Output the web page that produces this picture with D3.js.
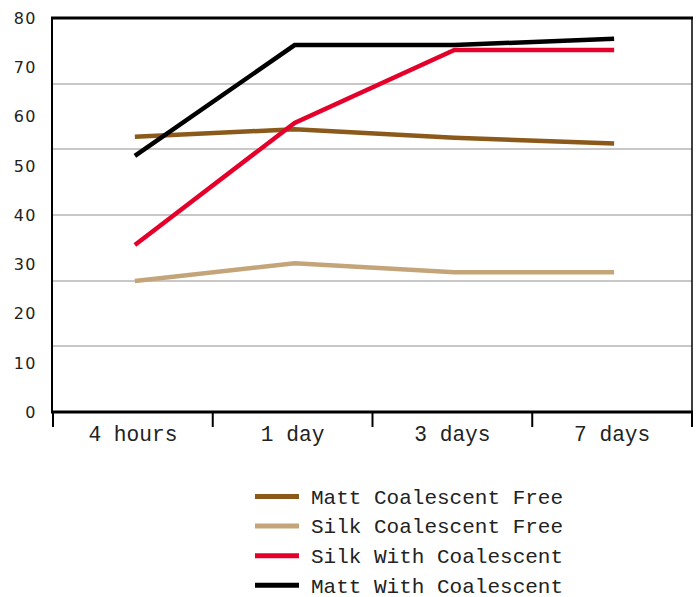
<!DOCTYPE html>
<html><head><meta charset="utf-8">
<script src="https://cdn.jsdelivr.net/npm/d3@7"></script>
<style>body{margin:0;background:#fff}</style>
</head><body>
<script>
const categories = ["4 hours", "1 day", "3 days", "7 days"];
const seriesNames = ["Matt Coalescent Free", "Silk Coalescent Free", "Silk With Coalescent", "Matt With Coalescent"];
const mattFree = [55.9, 57.4, 55.7, 54.5];
const silkFree = [26.6, 30.2, 28.4, 28.4];
const silkWith = [33.9, 58.7, 73.5, 73.5];
const mattWith = [52.0, 74.5, 74.5, 75.8];
const yTickLabels = [0, 10, 20, 30, 40, 50, 60, 70, 80];
const gridValues = [80/6, 160/6, 40, 320/6, 400/6];
const colors = ["#8B5A1A", "#C4A57A", "#E4002B", "#000000"];
const series = [mattFree, silkFree, silkWith, mattWith];

(function(){
const W = 697, H = 597;
const svg = d3.select("body").append("svg").attr("width", W).attr("height", H);
const pL = 53, pR = 692, pT = 18, pB = 412;

const x = d3.scaleBand().domain(categories).range([pL, pR]);
const y = d3.scaleLinear().domain([0, 80]).range([pB, pT]);

// gridlines
svg.append("g").selectAll("line").data(gridValues).join("line")
  .attr("x1", pL).attr("x2", pR)
  .attr("y1", d => Math.round(y(d))).attr("y2", d => Math.round(y(d)))
  .attr("stroke", "#c8c8c8").attr("stroke-width", 2);

// frame: top and right
svg.append("line").attr("x1", pL - 2).attr("x2", pR + 1).attr("y1", pT).attr("y2", pT)
  .attr("stroke", "#000").attr("stroke-width", 3);
svg.append("line").attr("x1", pR).attr("x2", pR).attr("y1", pT).attr("y2", pB)
  .attr("stroke", "#000").attr("stroke-width", 1.5);
svg.append("line").attr("x1", pL - 1).attr("x2", pL - 1).attr("y1", pT).attr("y2", pB)
  .attr("stroke", "#000").attr("stroke-width", 2);

// y labels
svg.append("g").selectAll("text").data(yTickLabels).join("text")
  .attr("x", 37).attr("y", d => y(d)).attr("dy", "0.36em")
  .attr("text-anchor", "end")
  .attr("font-family", "DejaVu Sans, sans-serif").attr("font-size", 16)
  .attr("letter-spacing", "1.5px").attr("fill", "#222")
  .text(d => d);

// x axis
const xAxis = d3.axisBottom(x).tickSize(0).tickPadding(14);
const gx = svg.append("g").attr("transform", `translate(0,${pB})`).call(xAxis);
gx.select(".domain").remove();
gx.selectAll("text").attr("font-family", "Liberation Mono, Courier New, monospace")
  .attr("font-size", 21.2).attr("fill", "#222").attr("dy", "0.71em");
const bounds = categories.map(c => x(c)).concat([x(categories[categories.length-1]) + x.bandwidth()]);
svg.append("g").selectAll("line").data(bounds).join("line")
  .attr("x1", d => d).attr("x2", d => d).attr("y1", pB).attr("y2", pB + 15)
  .attr("stroke", "#000").attr("stroke-width", 2);
svg.append("line").attr("x1", pL - 2).attr("x2", pR + 1).attr("y1", pB).attr("y2", pB)
  .attr("stroke", "#000").attr("stroke-width", 3);

// lines
const line = d3.line().x((d, i) => x(categories[i]) + x.bandwidth() / 2 + 2).y(d => y(d));
series.forEach((s, k) => {
  svg.append("path").datum(s).attr("d", line).attr("fill", "none")
    .attr("stroke", colors[k]).attr("stroke-width", 4.5).attr("stroke-linejoin", "miter");
});

// legend
const lg = svg.append("g");
seriesNames.forEach((n, i) => {
  const ly = 496.5 + i * 29.6;
  lg.append("line").attr("x1", 255).attr("x2", 299).attr("y1", ly).attr("y2", ly)
    .attr("stroke", colors[i]).attr("stroke-width", 5);
  lg.append("text").attr("x", 311).attr("y", ly).attr("dy", "0.35em")
    .attr("font-family", "Liberation Mono, Courier New, monospace").attr("font-size", 21)
    .attr("fill", "#222").text(n);
});
})();
</script>
</body></html>
